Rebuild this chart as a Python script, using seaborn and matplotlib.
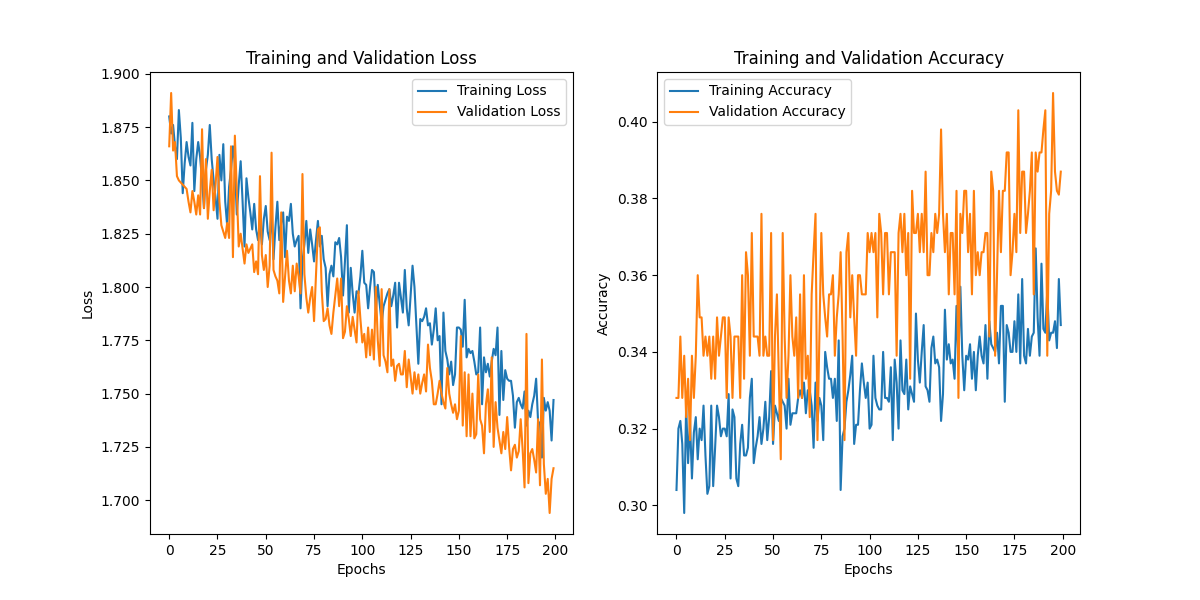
import numpy as np
import pandas as pd
import matplotlib
matplotlib.use("Agg")
import matplotlib.pyplot as plt
import seaborn as sns

# ── values (one per epoch) ────────────────────────────────────────────────────
epochs = list(range(200))

train_loss = [
    1.880, 1.872, 1.876, 1.866, 1.860, 1.883, 1.870, 1.844, 1.858, 1.868,
    1.861, 1.857, 1.877, 1.845, 1.860, 1.868, 1.861, 1.850, 1.837, 1.855,
    1.862, 1.876, 1.860, 1.850, 1.842, 1.832, 1.862, 1.850, 1.867, 1.840,
    1.829, 1.847, 1.855, 1.866, 1.858, 1.834, 1.848, 1.859, 1.840, 1.819,
    1.851, 1.842, 1.835, 1.827, 1.839, 1.827, 1.822, 1.830, 1.820, 1.832,
    1.838, 1.826, 1.822, 1.835, 1.813, 1.828, 1.840, 1.822, 1.830, 1.835,
    1.814, 1.833, 1.831, 1.839, 1.825, 1.819, 1.822, 1.824, 1.790, 1.812,
    1.820, 1.831, 1.816, 1.827, 1.820, 1.812, 1.822, 1.831, 1.819, 1.824,
    1.813, 1.809, 1.791, 1.806, 1.810, 1.805, 1.821, 1.820, 1.823, 1.814,
    1.796, 1.812, 1.829, 1.788, 1.809, 1.797, 1.788, 1.798, 1.797, 1.805,
    1.817, 1.802, 1.801, 1.790, 1.800, 1.808, 1.807, 1.789, 1.801, 1.792,
    1.783, 1.791, 1.794, 1.797, 1.799, 1.791, 1.796, 1.802, 1.781, 1.802,
    1.795, 1.788, 1.808, 1.790, 1.782, 1.796, 1.810, 1.800, 1.782, 1.764,
    1.785, 1.784, 1.786, 1.790, 1.782, 1.783, 1.773, 1.780, 1.790, 1.775,
    1.777, 1.745, 1.788, 1.770, 1.766, 1.759, 1.765, 1.754, 1.759, 1.781,
    1.781, 1.780, 1.772, 1.794, 1.767, 1.771, 1.769, 1.770, 1.765, 1.759,
    1.760, 1.781, 1.745, 1.767, 1.760, 1.764, 1.758, 1.765, 1.771, 1.768,
    1.781, 1.740, 1.770, 1.747, 1.761, 1.757, 1.756, 1.756, 1.749, 1.734,
    1.746, 1.748, 1.745, 1.743, 1.751, 1.735, 1.742, 1.739, 1.745, 1.749,
    1.757, 1.737, 1.736, 1.720, 1.748, 1.742, 1.746, 1.742, 1.728, 1.747,
]

val_loss = [
    1.866, 1.891, 1.864, 1.868, 1.852, 1.850, 1.849, 1.848, 1.847, 1.846,
    1.840, 1.835, 1.845, 1.840, 1.834, 1.843, 1.834, 1.874, 1.837, 1.860,
    1.832, 1.845, 1.855, 1.836, 1.848, 1.861, 1.840, 1.829, 1.826, 1.823,
    1.830, 1.823, 1.866, 1.814, 1.871, 1.845, 1.819, 1.825, 1.818, 1.811,
    1.820, 1.816, 1.818, 1.820, 1.807, 1.812, 1.806, 1.852, 1.815, 1.808,
    1.815, 1.800, 1.810, 1.863, 1.808, 1.805, 1.803, 1.797, 1.835, 1.793,
    1.805, 1.817, 1.803, 1.797, 1.810, 1.798, 1.811, 1.805, 1.797, 1.853,
    1.806, 1.795, 1.788, 1.795, 1.800, 1.784, 1.805, 1.827, 1.828, 1.798,
    1.784, 1.785, 1.790, 1.782, 1.778, 1.788, 1.796, 1.804, 1.791, 1.804,
    1.776, 1.779, 1.791, 1.785, 1.777, 1.786, 1.780, 1.774, 1.798, 1.785,
    1.774, 1.778, 1.767, 1.781, 1.768, 1.780, 1.766, 1.800, 1.775, 1.763,
    1.799, 1.768, 1.765, 1.760, 1.799, 1.763, 1.766, 1.756, 1.763, 1.764,
    1.759, 1.759, 1.770, 1.753, 1.766, 1.758, 1.750, 1.760, 1.752, 1.759,
    1.750, 1.755, 1.759, 1.751, 1.773, 1.762, 1.756, 1.745, 1.745, 1.750,
    1.756, 1.750, 1.746, 1.743, 1.762, 1.750, 1.745, 1.741, 1.745, 1.738,
    1.742, 1.777, 1.735, 1.760, 1.730, 1.759, 1.730, 1.750, 1.729, 1.731,
    1.759, 1.738, 1.735, 1.722, 1.745, 1.752, 1.732, 1.767, 1.725, 1.746,
    1.734, 1.728, 1.722, 1.732, 1.724, 1.739, 1.725, 1.714, 1.724, 1.726,
    1.720, 1.723, 1.738, 1.724, 1.706, 1.778, 1.708, 1.722, 1.724, 1.719,
    1.713, 1.738, 1.707, 1.766, 1.717, 1.703, 1.710, 1.694, 1.710, 1.715,
]

train_acc = [
    0.304, 0.320, 0.322, 0.316, 0.298, 0.326, 0.311, 0.322, 0.307, 0.319,
    0.323, 0.312, 0.320, 0.317, 0.326, 0.313, 0.303, 0.305, 0.326, 0.305,
    0.315, 0.326, 0.323, 0.318, 0.320, 0.320, 0.318, 0.329, 0.307, 0.325,
    0.323, 0.307, 0.305, 0.316, 0.321, 0.313, 0.313, 0.315, 0.328, 0.333,
    0.311, 0.315, 0.318, 0.323, 0.316, 0.320, 0.327, 0.317, 0.323, 0.335,
    0.316, 0.326, 0.324, 0.322, 0.328, 0.327, 0.326, 0.320, 0.333, 0.321,
    0.324, 0.324, 0.324, 0.328, 0.330, 0.328, 0.332, 0.324, 0.330, 0.330,
    0.326, 0.315, 0.332, 0.322, 0.328, 0.326, 0.317, 0.340, 0.336, 0.333,
    0.333, 0.328, 0.333, 0.322, 0.343, 0.304, 0.318, 0.320, 0.327, 0.330,
    0.334, 0.339, 0.316, 0.321, 0.321, 0.330, 0.337, 0.332, 0.328, 0.332,
    0.320, 0.321, 0.339, 0.328, 0.326, 0.325, 0.325, 0.340, 0.328, 0.328,
    0.327, 0.336, 0.317, 0.338, 0.332, 0.320, 0.343, 0.330, 0.329, 0.338,
    0.325, 0.331, 0.329, 0.327, 0.350, 0.338, 0.332, 0.340, 0.347, 0.331,
    0.330, 0.327, 0.341, 0.344, 0.337, 0.338, 0.336, 0.322, 0.329, 0.351,
    0.338, 0.342, 0.337, 0.338, 0.333, 0.352, 0.338, 0.357, 0.339, 0.330,
    0.339, 0.338, 0.342, 0.333, 0.340, 0.330, 0.339, 0.344, 0.339, 0.337,
    0.347, 0.333, 0.348, 0.342, 0.341, 0.340, 0.345, 0.337, 0.352, 0.352,
    0.327, 0.347, 0.345, 0.340, 0.340, 0.348, 0.340, 0.355, 0.337, 0.359,
    0.339, 0.337, 0.346, 0.339, 0.344, 0.345, 0.367, 0.349, 0.339, 0.363,
    0.346, 0.345, 0.356, 0.343, 0.345, 0.345, 0.348, 0.341, 0.359, 0.347,
]

val_acc = [
    0.328, 0.328, 0.344, 0.328, 0.339, 0.323, 0.333, 0.317, 0.339, 0.328,
    0.339, 0.360, 0.349, 0.349, 0.339, 0.344, 0.339, 0.344, 0.333, 0.344,
    0.333, 0.349, 0.339, 0.344, 0.349, 0.349, 0.328, 0.349, 0.344, 0.328,
    0.344, 0.344, 0.344, 0.328, 0.360, 0.333, 0.366, 0.360, 0.339, 0.371,
    0.344, 0.344, 0.344, 0.339, 0.376, 0.339, 0.344, 0.339, 0.339, 0.371,
    0.317, 0.344, 0.355, 0.333, 0.312, 0.371, 0.344, 0.328, 0.339, 0.360,
    0.344, 0.339, 0.349, 0.328, 0.355, 0.328, 0.360, 0.333, 0.339, 0.323,
    0.355, 0.366, 0.376, 0.317, 0.344, 0.371, 0.355, 0.349, 0.344, 0.355,
    0.355, 0.360, 0.339, 0.349, 0.355, 0.366, 0.344, 0.317, 0.366, 0.371,
    0.349, 0.360, 0.349, 0.339, 0.360, 0.360, 0.355, 0.355, 0.355, 0.371,
    0.366, 0.371, 0.366, 0.371, 0.349, 0.376, 0.371, 0.355, 0.371, 0.371,
    0.355, 0.366, 0.366, 0.366, 0.339, 0.371, 0.376, 0.366, 0.376, 0.360,
    0.371, 0.333, 0.382, 0.371, 0.371, 0.376, 0.366, 0.376, 0.366, 0.387,
    0.360, 0.360, 0.371, 0.366, 0.376, 0.371, 0.376, 0.398, 0.376, 0.366,
    0.376, 0.355, 0.371, 0.371, 0.355, 0.382, 0.328, 0.376, 0.371, 0.382,
    0.382, 0.366, 0.376, 0.355, 0.382, 0.360, 0.366, 0.360, 0.366, 0.366,
    0.371, 0.371, 0.344, 0.387, 0.382, 0.339, 0.360, 0.382, 0.366, 0.382,
    0.382, 0.392, 0.392, 0.360, 0.366, 0.376, 0.366, 0.403, 0.371, 0.387,
    0.387, 0.371, 0.376, 0.382, 0.392, 0.355, 0.392, 0.387, 0.392, 0.392,
    0.398, 0.403, 0.339, 0.376, 0.382, 0.4075, 0.387, 0.382, 0.381, 0.387,
]

# ── plot ──────────────────────────────────────────────────────────────────────
fig, (ax1, ax2) = plt.subplots(1, 2, figsize=(12, 6), dpi=100)

sns.lineplot(x=epochs, y=train_loss, ax=ax1, color="tab:blue", label="Training Loss")
sns.lineplot(x=epochs, y=val_loss, ax=ax1, color="tab:orange", label="Validation Loss")
ax1.set_title("Training and Validation Loss")
ax1.set_xlabel("Epochs"); ax1.set_ylabel("Loss")
ax1.legend(loc="upper right")

sns.lineplot(x=epochs, y=train_acc, ax=ax2, color="tab:blue", label="Training Accuracy")
sns.lineplot(x=epochs, y=val_acc, ax=ax2, color="tab:orange", label="Validation Accuracy")
ax2.set_title("Training and Validation Accuracy")
ax2.set_xlabel("Epochs"); ax2.set_ylabel("Accuracy")
ax2.legend(loc="upper left")

plt.savefig("out.png", dpi=100)
plt.close()
